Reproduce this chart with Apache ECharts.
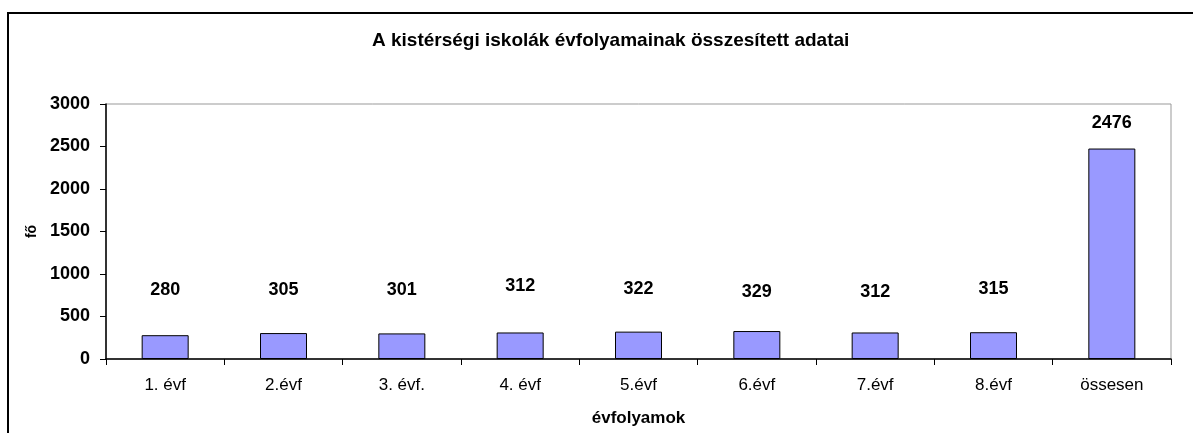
<!DOCTYPE html>
<html>
<head>
<meta charset="utf-8">
<script src="https://cdn.jsdelivr.net/npm/echarts@6/dist/echarts.min.js"></script>
<style>
  html, body { margin: 0; padding: 0; background: #fff; }
  #wrap { position: relative; width: 1193px; height: 433px; overflow: hidden; }
  #chart { width: 1193px; height: 433px; }
  #frame { position: absolute; left: 7px; top: 12px; width: 1300px; height: 600px;
           border-left: 2px solid #000; border-top: 2px solid #000; pointer-events: none; }
</style>
</head>
<body>
<div id="wrap">
  <div id="chart"></div>
  <div id="frame"></div>
</div>
<script>
// ---- data ----
const titleText = 'A kistérségi iskolák évfolyamainak összesített adatai';
const categories = ['1. évf', '2.évf', '3. évf.', '4. évf', '5.évf', '6.évf', '7.évf', '8.évf', 'össesen'];
const values = [280, 305, 301, 312, 322, 329, 312, 315, 2476];
const yTicks = { min: 0, max: 3000, interval: 500 };
const xAxisTitle = 'évfolyamok';
const yAxisTitle = 'fő';

// ---- label placement (style, px above bar top as in the original) ----
const labelDistance = [36, 34, 34, 37.5, 33.5, 30, 31.5, 34, 17];

const font = 'Arial, "Liberation Sans", sans-serif';
const chart = echarts.init(document.getElementById('chart'), null, { renderer: 'canvas' });

const seriesData = values.map((v, i) => ({
  value: v,
  label: { distance: labelDistance[i] }
}));

chart.setOption({
  animation: false,
  backgroundColor: '#fff',
  title: {
    text: titleText,
    left: 367,
    top: 26,
    textStyle: { fontFamily: font, fontSize: 19, fontWeight: 'bold', color: '#000' }
  },
  grid: {
    left: 106, right: 22, top: 104, bottom: 74,
    show: true, borderColor: '#999', borderWidth: 1, backgroundColor: 'transparent'
  },
  xAxis: {
    type: 'category',
    data: categories,
    name: xAxisTitle,
    nameLocation: 'middle',
    nameGap: 51,
    nameTextStyle: { fontFamily: font, fontSize: 17, fontWeight: 'bold', color: '#000' },
    axisLine: { lineStyle: { color: '#000', width: 1.5 } },
    axisTick: { show: true, length: 6, alignWithLabel: false, lineStyle: { color: '#000' } },
    axisLabel: { margin: 18, fontFamily: font, fontSize: 17, color: '#000' },
    splitLine: { show: false }
  },
  yAxis: {
    type: 'value',
    min: yTicks.min, max: yTicks.max, interval: yTicks.interval,
    name: yAxisTitle,
    nameLocation: 'middle',
    nameGap: 59,
    nameRotate: 90,
    nameTextStyle: { fontFamily: font, fontSize: 14, fontWeight: 'bold', color: '#000' },
    axisLine: { show: true, lineStyle: { color: '#000', width: 1.5 } },
    axisTick: { show: true, length: 6, lineStyle: { color: '#000' } },
    axisLabel: {
      margin: 16, fontFamily: font, fontSize: 18, fontWeight: 'bold', color: '#000',
      formatter: v => String(v)
    },
    splitLine: { show: false }
  },
  series: [{
    type: 'bar',
    data: seriesData,
    barWidth: 47,
    itemStyle: { color: '#9999FF', borderColor: '#000', borderWidth: 1 },
    label: {
      show: true,
      position: 'top',
      fontFamily: font, fontSize: 18, fontWeight: 'bold', color: '#000'
    }
  }]
});
</script>
</body>
</html>
